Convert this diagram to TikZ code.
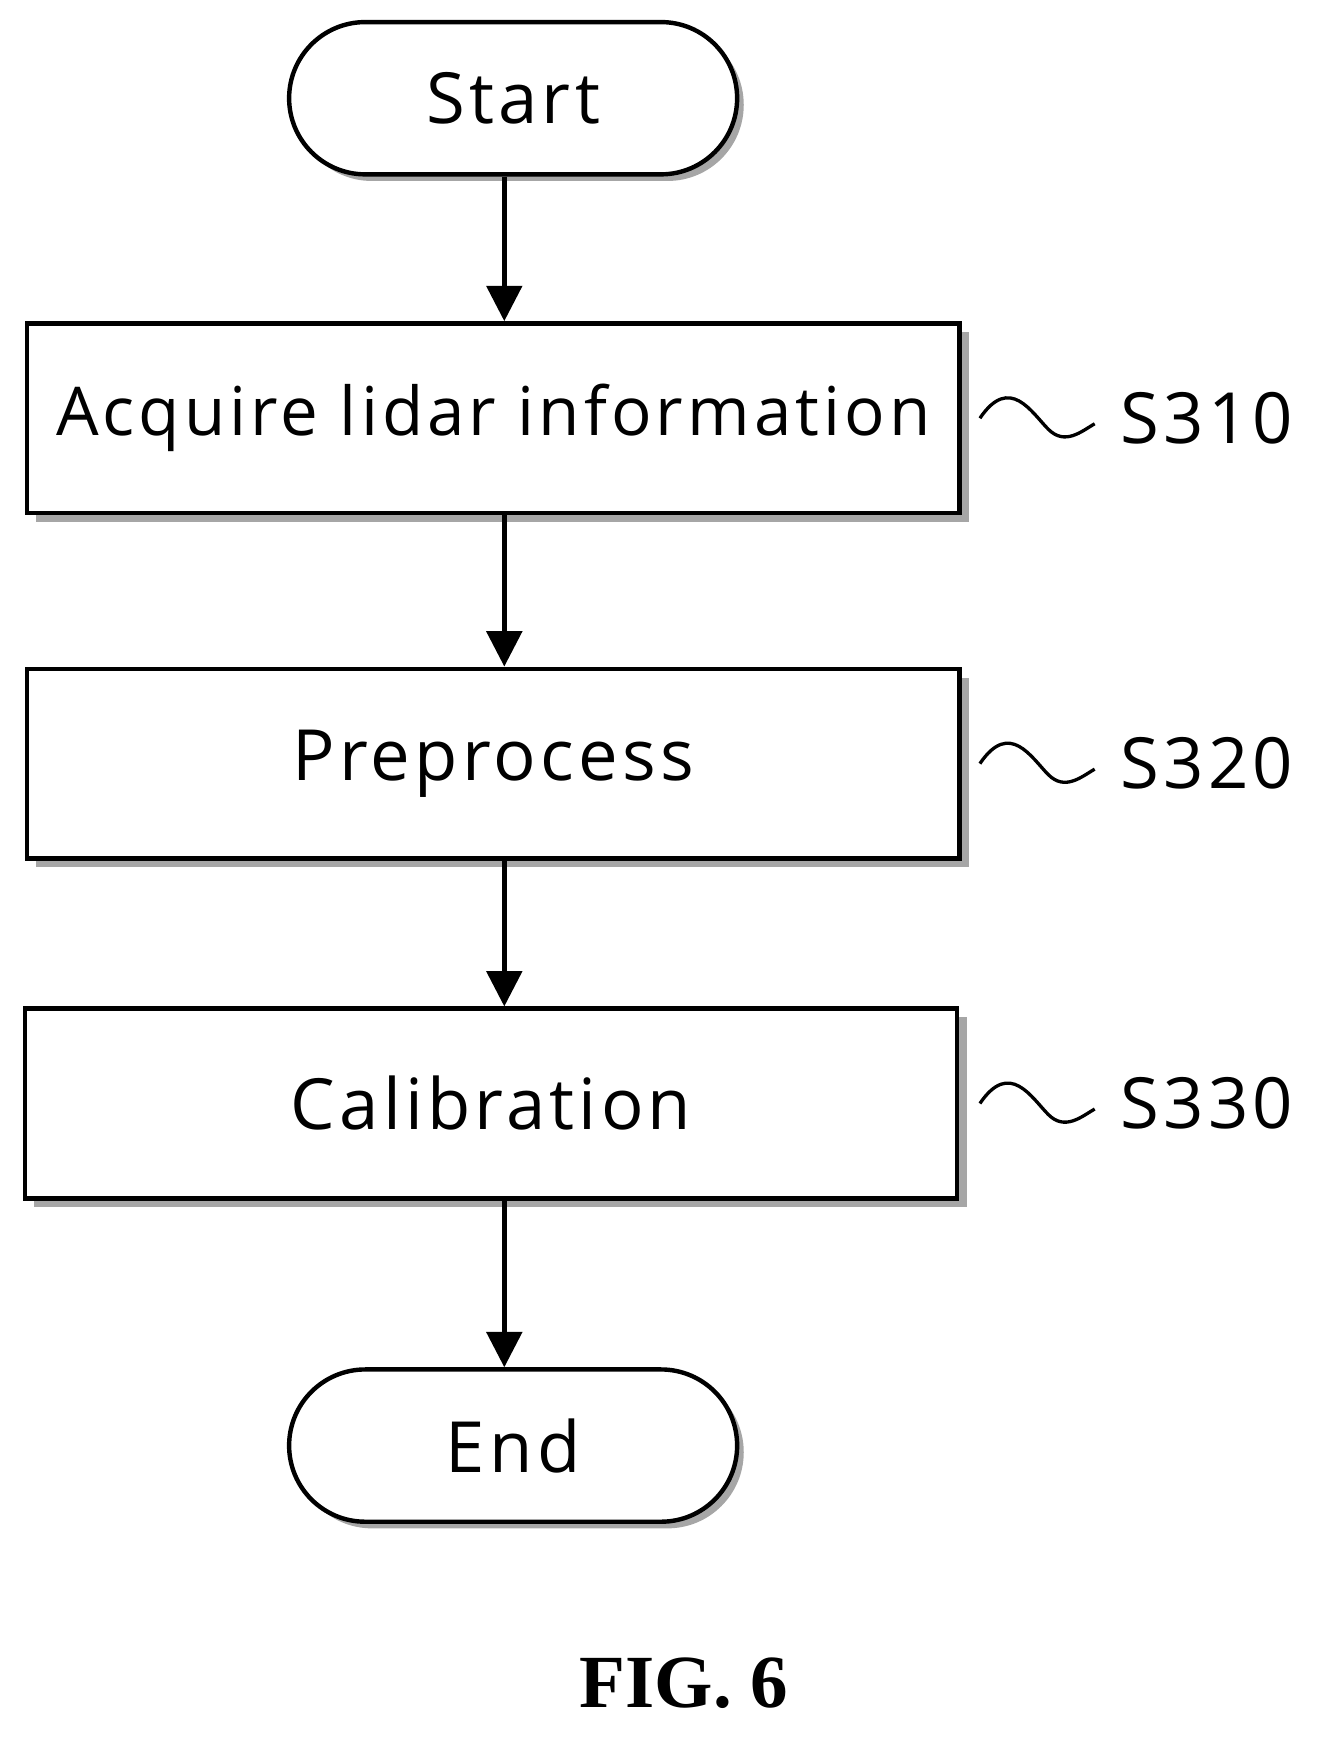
\documentclass[tikz,border=0pt]{standalone}
\usepackage{fontspec}
\setmainfont{Open Sans}[LetterSpace=6]
\newfontfamily\figfont{Liberation Serif}
\usetikzlibrary{arrows.meta}
\begin{document}
\begin{tikzpicture}[x=1pt,y=-1pt,
 box/.style={draw,line width=4pt,fill=white,minimum width=845pt,minimum height=172pt,font=\fontsize{64}{66}\selectfont},
 term/.style={draw,line width=4pt,fill=white,rounded corners=69pt,minimum width=406pt,minimum height=138pt,font=\fontsize{64}{66}\selectfont},
 sh/.style={fill=gray!70},
 arr/.style={line width=4pt,-{Triangle[length=32pt,width=32pt]}},
 lab/.style={font=\fontsize{64}{66}\selectfont},
 wav/.style={line width=3pt}]
\useasboundingbox (0,0) rectangle (1212,1575);
\foreach \x/\y in {447/379,447/692,445/1000}{\fill[sh] (\x-422+8,\y-86+8) rectangle (\x+423+8,\y+86+8);}
\fill[sh,rounded corners=69pt] (465-203+6,89-69+6) rectangle (465+203+6,89+69+6);
\fill[sh,rounded corners=69pt] (465-203+6,1310-69+6) rectangle (465+203+6,1310+69+6);
\node[term] (st) at (465,89) {Start};
\node[box,font=\fontsize{61}{63}\selectfont] (b1) at (447,379) {Acquire lidar information};
\node[box] (b2) at (447,692) {Preprocess};
\node[box] (b3) at (445,1000) {Calibration};
\node[term] (en) at (465,1310) {End};
\draw[arr] (st.south -| 457,0) -- (b1.north -| 457,0);
\draw[arr] (b1.south -| 457,0) -- (b2.north -| 457,0);
\draw[arr] (b2.south -| 457,0) -- (b3.north -| 457,0);
\draw[arr] (b3.south -| 457,0) -- (en.north -| 457,0);
\foreach \n/\y/\t in {1/379/S310,2/692/S320,3/1000/S330}{
 \coordinate (w\n) at (888,\y);
 \coordinate (e\n) at (992,\y+5);
 \node[lab,anchor=west] (l\n) at (1012,\y) {\t};
 \draw[wav] (w\n) .. controls (915,\y-40) and (935,\y-5) .. (950,\y+10) .. controls (965,\y+25) and (980,\y+12) .. (e\n);
}
\node[font=\fontsize{68}{70}\selectfont] (fig) at (620,1525) {\figfont\bfseries FIG. 6};
\end{tikzpicture}
\end{document}
